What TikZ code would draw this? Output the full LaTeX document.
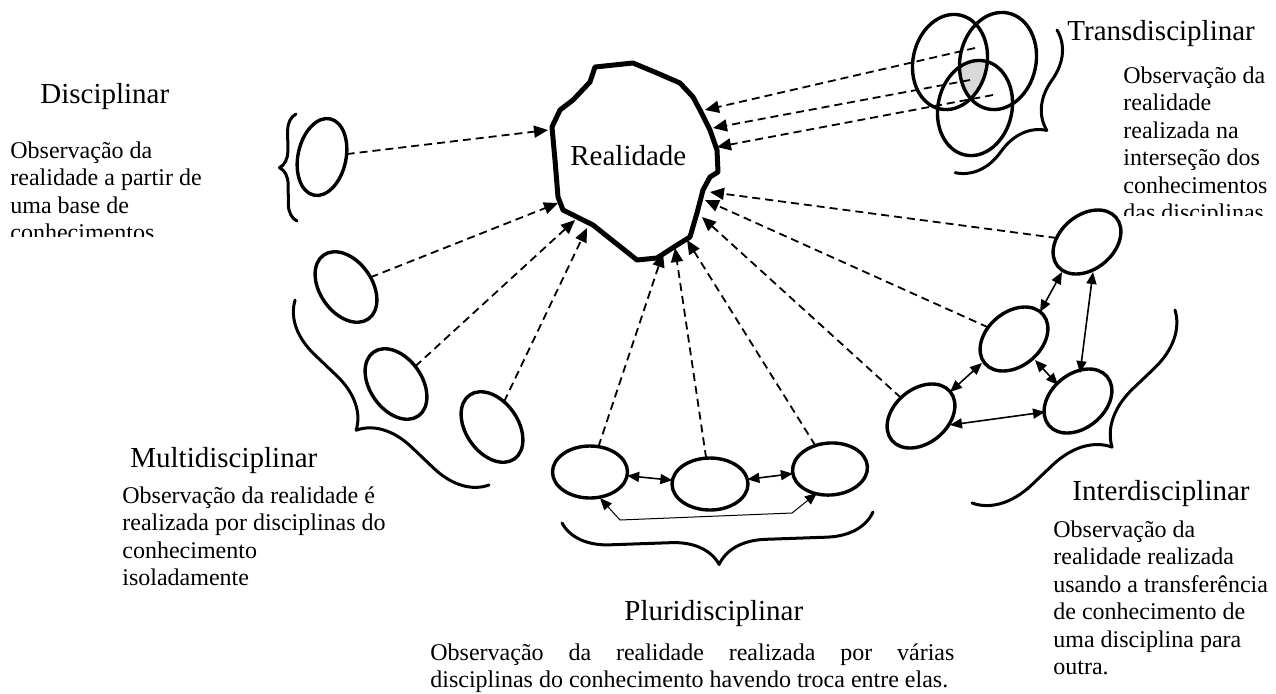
\documentclass[tikz,border=0pt]{standalone}
\usepackage{fontspec}
\setmainfont{Liberation Serif}
\usetikzlibrary{arrows.meta,decorations.pathreplacing,shapes.geometric}
\begin{document}
\begin{tikzpicture}[x=0.5pt,y=-0.5pt,
  ell/.style={draw,ellipse,line width=1.7pt,inner sep=0pt,outer sep=0pt},
  obs/.style={-{Triangle[length=7pt,width=6pt]},line width=0.9pt,dash pattern=on 4pt off 2.5pt},
  link/.style={{Triangle[length=6pt,width=5pt]}-{Triangle[length=6pt,width=5pt]},line width=0.8pt},
  thinlink/.style={{Triangle[length=6pt,width=5pt]}-{Triangle[length=6pt,width=5pt]},line width=0.5pt},
  brc/.style={decorate,decoration={brace,amplitude=#1},line width=1.5pt,line join=round,line cap=round},
  ttl/.style={font=\fontsize{14.5pt}{16pt}\selectfont,inner sep=0pt,anchor=base west},
  txt/.style={font=\fontsize{12pt}{13.75pt}\selectfont,inner sep=0pt,anchor=base west}]
\useasboundingbox (0,0) rectangle (1276,693);

% ---------- Realidade ----------
\draw[line width=2.5pt,line join=round] (595,67) -- (633,63) -- (657,73) -- (680,83) -- (693,97) -- (700,110) -- (710,130) -- (717,150) -- (718,172) -- (710,177) -- (703,190) -- (697,213) -- (690,237) -- (677,245) -- (657,258) -- (637,260) -- (593,225) -- (563,210) -- (558,197) -- (555,160) -- (552,127) -- (560,110) -- (573,100) -- (590,82) -- cycle;
\node[ttl] (real) at (570,165) {Realidade};

\coordinate (rd) at (548,130);
\coordinate (rm1) at (558,203);
\coordinate (rm2) at (575,220);
\coordinate (rm3) at (587,228);
\coordinate (rp1) at (663,253);
\coordinate (rp2) at (675,248);
\coordinate (rp3) at (687,240);
\coordinate (ril) at (702,217);
\coordinate (rim) at (705,200);
\coordinate (rit) at (710,192);
\coordinate (rt1) at (705,110);
\coordinate (rt2) at (713,128);
\coordinate (rt3) at (717,147);

% ---------- Disciplinar ----------
\node[ttl] (dtit) at (40,103) {Disciplinar};
\begin{scope}
\clip (0,0) rectangle (270,236);
\node[txt] (dtxt) at (10,158) {\vtop{\hbox{Observação da}\hbox{realidade a partir de}\hbox{uma base de}\hbox{conhecimentos}}};
\end{scope}
\node[ell,minimum width=24pt,minimum height=39pt,rotate=-12] (d) at (322,157) {};
\draw[brc=8.5pt] (297,221) -- (296,114);
\draw[obs] (d) -- (rd);

% ---------- Multidisciplinar ----------
\node[ell,minimum width=39pt,minimum height=26pt,rotate=-55] (m1) at (346,287) {};
\node[ell,minimum width=39pt,minimum height=26pt,rotate=-55] (m2) at (396,384) {};
\node[ell,minimum width=39pt,minimum height=26pt,rotate=-55] (m3) at (492,427) {};
\draw[obs] (m1) -- (rm1);
\draw[obs] (m2) -- (rm2);
\draw[obs] (m3) -- (rm3);
\draw[brc=26pt] (489,485) -- (295,300);
\node[ttl] (mtit) at (130,467) {Multidisciplinar};
\node[txt] (mtxt) at (122,503) {\vtop{\hbox{Observação da realidade é}\hbox{realizada por disciplinas do}\hbox{conhecimento}\hbox{isoladamente}}};

% ---------- Pluridisciplinar ----------
\node[ell,minimum width=37.5pt,minimum height=26pt] (p1) at (590,472) {};
\node[ell,minimum width=38pt,minimum height=26pt] (p2) at (710,484) {};
\node[ell,minimum width=37.5pt,minimum height=26pt,rotate=4] (p3) at (830,469) {};
\draw[obs] (p1) -- (rp1);
\draw[obs] (p2) -- (rp2);
\draw[obs] (p3) -- (rp3);
\draw[link] (p1) -- (p2);
\draw[link] (p2) -- (p3);
\coordinate (pb1) at (600,498);
\coordinate (pb2) at (620,520);
\coordinate (pb3) at (792,513);
\coordinate (pb4) at (817,493);
\draw[thinlink] (pb1) -- (pb2) -- (pb3) -- (pb4);
\draw[brc=23.5pt] (873,512) -- (562,523);
\node[ttl] (ptit) at (624,620) {Pluridisciplinar};
\node[txt] (ptxt) at (430,660) {\vtop{\hbox to 262pt{Observação\hfill da\hfill realidade\hfill realizada\hfill por\hfill várias}\hbox{disciplinas do conhecimento havendo troca entre elas.}}};

% ---------- Interdisciplinar ----------
\node[ell,minimum width=38pt,minimum height=27pt,rotate=40] (it) at (1087,242) {};
\node[ell,minimum width=38pt,minimum height=27pt,rotate=40] (im) at (1014,339) {};
\node[ell,minimum width=38pt,minimum height=27pt,rotate=40] (il) at (921,416) {};
\node[ell,minimum width=38pt,minimum height=27pt,rotate=40] (ir) at (1078,401) {};
\draw[obs] (it) -- (rit);
\draw[obs] (im) -- (rim);
\draw[obs] (il) -- (ril);
\coordinate (a1) at (1062,272); \coordinate (a2) at (1040,312);
\coordinate (b1) at (1093,272); \coordinate (b2) at (1080,373);
\coordinate (c1) at (982,363);  \coordinate (c2) at (950,392);
\coordinate (e1) at (1035,360); \coordinate (e2) at (1058,385);
\coordinate (f1) at (950,425);  \coordinate (f2) at (1045,412);
\draw[link] (a1) -- (a2);
\draw[link] (b1) -- (b2);
\draw[link] (c1) -- (c2);
\draw[link] (e1) -- (e2);
\draw[link] (f1) -- (f2);
\draw[brc=28pt] (1175,310) -- (972,503);
\node[ttl] (itit) at (1072,500) {Interdisciplinar};
\node[txt] (itxt) at (1053,537) {\vtop{\hbox{Observação da}\hbox{realidade realizada}\hbox{usando a transferência}\hbox{de conhecimento de}\hbox{uma disciplina para}\hbox{outra.}}};

% ---------- Transdisciplinar ----------
\begin{scope}
\clip[rotate around={-12:(950,62)}] (950,62) ellipse [x radius=37, y radius=48];
\clip[rotate around={-12:(998,61)}] (998,61) ellipse [x radius=38, y radius=49];
\fill[gray!30,rotate around={-12:(975,108)}] (975,108) ellipse [x radius=37, y radius=48];
\end{scope}
\node[ell,minimum width=37pt,minimum height=48pt,rotate=-12] (t1) at (950,62) {};
\node[ell,minimum width=38pt,minimum height=49pt,rotate=-12] (t2) at (998,61) {};
\node[ell,minimum width=37pt,minimum height=48pt,rotate=-12] (t3) at (975,108) {};
\coordinate (ts1) at (975,48);
\coordinate (ts2) at (970,80);
\coordinate (ts3) at (993,95);
\draw[obs] (ts1) -- (rt1);
\draw[obs] (ts2) -- (rt2);
\draw[obs] (ts3) -- (rt3);
\draw[brc=25pt] (1057,30) -- (955,173);
\node[ttl] (ttit) at (1067,40) {Transdisciplinar};
\begin{scope}
\clip (1100,55) rectangle (1276,215);
\node[txt] (ttxt) at (1123,83) {\vtop{\hbox{Observação da}\hbox{realidade}\hbox{realizada na}\hbox{interseção dos}\hbox{conhecimentos}\hbox{das disciplinas}}};
\end{scope}
\end{tikzpicture}
\end{document}
